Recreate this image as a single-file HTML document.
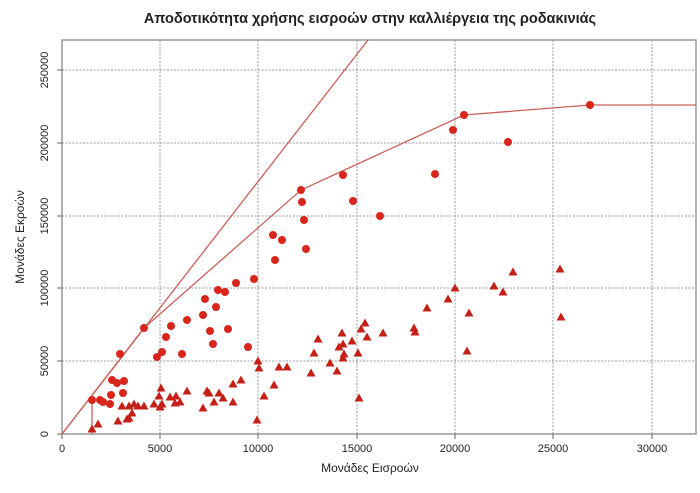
<!DOCTYPE html>
<html><head><meta charset="utf-8"><style>
body{margin:0;background:#fff}
svg{display:block;font-family:"Liberation Sans",sans-serif}
</style></head><body>
<svg width="700" height="493" viewBox="0 0 700 493" xmlns="http://www.w3.org/2000/svg">
<rect width="700" height="493" fill="#fff"/>
<text x="370" y="23" font-size="14.5" font-weight="bold" text-anchor="middle" fill="#222">Αποδοτικότητα χρήσης εισροών στην καλλιέργεια της ροδακινιάς</text>
<g stroke="#999" stroke-width="1" stroke-dasharray="2,1.5">
<line x1="160" y1="40" x2="160" y2="434"/><line x1="258" y1="40" x2="258" y2="434"/><line x1="357" y1="40" x2="357" y2="434"/><line x1="455" y1="40" x2="455" y2="434"/><line x1="553" y1="40" x2="553" y2="434"/><line x1="652" y1="40" x2="652" y2="434"/>
<line x1="62" y1="361" x2="696" y2="361"/><line x1="62" y1="288" x2="696" y2="288"/><line x1="62" y1="216" x2="696" y2="216"/><line x1="62" y1="143" x2="696" y2="143"/><line x1="62" y1="70" x2="696" y2="70"/>
</g>
<rect x="62" y="40" width="634" height="394" fill="none" stroke="#999" stroke-width="1.5"/>
<g stroke="#666" stroke-width="1">
<line x1="62" y1="434" x2="62" y2="439"/><line x1="160" y1="434" x2="160" y2="439"/><line x1="258" y1="434" x2="258" y2="439"/><line x1="357" y1="434" x2="357" y2="439"/><line x1="455" y1="434" x2="455" y2="439"/><line x1="553" y1="434" x2="553" y2="439"/><line x1="652" y1="434" x2="652" y2="439"/>
<line x1="57" y1="434" x2="62" y2="434"/><line x1="57" y1="361" x2="62" y2="361"/><line x1="57" y1="288" x2="62" y2="288"/><line x1="57" y1="216" x2="62" y2="216"/><line x1="57" y1="143" x2="62" y2="143"/><line x1="57" y1="70" x2="62" y2="70"/>
</g>
<g font-size="11" fill="#222" text-anchor="middle">
<text x="62" y="452">0</text><text x="160" y="452">5000</text><text x="258" y="452">10000</text><text x="357" y="452">15000</text><text x="455" y="452">20000</text><text x="553" y="452">25000</text><text x="652" y="452">30000</text>
</g>
<g font-size="11" fill="#222" text-anchor="middle">
<text transform="translate(48,434) rotate(-90)">0</text>
<text transform="translate(48,361) rotate(-90)">50000</text>
<text transform="translate(48,288) rotate(-90)">100000</text>
<text transform="translate(48,216) rotate(-90)">150000</text>
<text transform="translate(48,143) rotate(-90)">200000</text>
<text transform="translate(48,70) rotate(-90)">250000</text>
</g>
<text x="370" y="472" font-size="12" text-anchor="middle" fill="#222">Μονάδες Εισροών</text>
<text transform="translate(24,237) rotate(-90)" font-size="12" text-anchor="middle" fill="#222">Μονάδες Εκροών</text>
<g stroke="#c8605a" stroke-width="1.3" fill="none">
<line x1="62" y1="434" x2="368" y2="40"/>
<polyline points="62,434 144,328 301,190 464,115 590,105 696,105"/>
<line x1="92" y1="400" x2="92" y2="434"/>
</g>
<g fill="#d8261c">
<circle cx="92" cy="400" r="4"/><circle cx="144" cy="328" r="4"/><circle cx="120" cy="354" r="4"/><circle cx="112" cy="380" r="4"/><circle cx="117" cy="383" r="4"/><circle cx="124" cy="381" r="4"/><circle cx="123" cy="393" r="4"/><circle cx="111" cy="395" r="4"/><circle cx="110" cy="404" r="4"/><circle cx="100" cy="400" r="4"/><circle cx="103" cy="402" r="4"/>
<circle cx="157" cy="357" r="4"/><circle cx="162" cy="352" r="4"/><circle cx="166" cy="337" r="4"/><circle cx="171" cy="326" r="4"/><circle cx="187" cy="320" r="4"/><circle cx="182" cy="354" r="4"/><circle cx="203" cy="315" r="4"/><circle cx="205" cy="299" r="4"/><circle cx="210" cy="331" r="4"/><circle cx="213" cy="344" r="4"/><circle cx="216" cy="307" r="4"/><circle cx="218" cy="290" r="4"/><circle cx="225" cy="292" r="4"/><circle cx="228" cy="329" r="4"/><circle cx="236" cy="283" r="4"/><circle cx="248" cy="347" r="4"/><circle cx="254" cy="279" r="4"/><circle cx="275" cy="260" r="4"/>
<circle cx="273" cy="235" r="4"/><circle cx="282" cy="240" r="4"/><circle cx="306" cy="249" r="4"/><circle cx="301" cy="190" r="4"/><circle cx="302" cy="202" r="4"/><circle cx="304" cy="220" r="4"/><circle cx="343" cy="175" r="4"/><circle cx="353" cy="201" r="4"/><circle cx="380" cy="216" r="4"/><circle cx="435" cy="174" r="4"/><circle cx="453" cy="130" r="4"/><circle cx="464" cy="115" r="4"/><circle cx="508" cy="142" r="4"/><circle cx="590" cy="105" r="4"/>
</g>
<g fill="#c42018">
<path d="M0,-4.5 L4.5,3.5 L-4.5,3.5Z" transform="translate(92,429)"/>
<path d="M0,-4.5 L4.5,3.5 L-4.5,3.5Z" transform="translate(98,424)"/><path d="M0,-4.5 L4.5,3.5 L-4.5,3.5Z" transform="translate(118,421)"/><path d="M0,-4.5 L4.5,3.5 L-4.5,3.5Z" transform="translate(127,419)"/><path d="M0,-4.5 L4.5,3.5 L-4.5,3.5Z" transform="translate(129,418)"/><path d="M0,-4.5 L4.5,3.5 L-4.5,3.5Z" transform="translate(132,413)"/><path d="M0,-4.5 L4.5,3.5 L-4.5,3.5Z" transform="translate(122,406)"/><path d="M0,-4.5 L4.5,3.5 L-4.5,3.5Z" transform="translate(129,406)"/><path d="M0,-4.5 L4.5,3.5 L-4.5,3.5Z" transform="translate(134,404)"/><path d="M0,-4.5 L4.5,3.5 L-4.5,3.5Z" transform="translate(138,406)"/><path d="M0,-4.5 L4.5,3.5 L-4.5,3.5Z" transform="translate(144,406)"/><path d="M0,-4.5 L4.5,3.5 L-4.5,3.5Z" transform="translate(154,404)"/><path d="M0,-4.5 L4.5,3.5 L-4.5,3.5Z" transform="translate(160,407)"/><path d="M0,-4.5 L4.5,3.5 L-4.5,3.5Z" transform="translate(162,404)"/><path d="M0,-4.5 L4.5,3.5 L-4.5,3.5Z" transform="translate(159,396)"/><path d="M0,-4.5 L4.5,3.5 L-4.5,3.5Z" transform="translate(161,388)"/><path d="M0,-4.5 L4.5,3.5 L-4.5,3.5Z" transform="translate(170,397)"/><path d="M0,-4.5 L4.5,3.5 L-4.5,3.5Z" transform="translate(175,403)"/><path d="M0,-4.5 L4.5,3.5 L-4.5,3.5Z" transform="translate(176,396)"/><path d="M0,-4.5 L4.5,3.5 L-4.5,3.5Z" transform="translate(180,402)"/><path d="M0,-4.5 L4.5,3.5 L-4.5,3.5Z" transform="translate(187,391)"/><path d="M0,-4.5 L4.5,3.5 L-4.5,3.5Z" transform="translate(203,408)"/><path d="M0,-4.5 L4.5,3.5 L-4.5,3.5Z" transform="translate(207,391)"/><path d="M0,-4.5 L4.5,3.5 L-4.5,3.5Z" transform="translate(209,393)"/><path d="M0,-4.5 L4.5,3.5 L-4.5,3.5Z" transform="translate(214,402)"/><path d="M0,-4.5 L4.5,3.5 L-4.5,3.5Z" transform="translate(219,393)"/><path d="M0,-4.5 L4.5,3.5 L-4.5,3.5Z" transform="translate(223,398)"/><path d="M0,-4.5 L4.5,3.5 L-4.5,3.5Z" transform="translate(233,384)"/><path d="M0,-4.5 L4.5,3.5 L-4.5,3.5Z" transform="translate(233,402)"/><path d="M0,-4.5 L4.5,3.5 L-4.5,3.5Z" transform="translate(241,380)"/><path d="M0,-4.5 L4.5,3.5 L-4.5,3.5Z" transform="translate(257,420)"/><path d="M0,-4.5 L4.5,3.5 L-4.5,3.5Z" transform="translate(258,361)"/><path d="M0,-4.5 L4.5,3.5 L-4.5,3.5Z" transform="translate(259,368)"/><path d="M0,-4.5 L4.5,3.5 L-4.5,3.5Z" transform="translate(264,396)"/><path d="M0,-4.5 L4.5,3.5 L-4.5,3.5Z" transform="translate(274,385)"/><path d="M0,-4.5 L4.5,3.5 L-4.5,3.5Z" transform="translate(279,367)"/><path d="M0,-4.5 L4.5,3.5 L-4.5,3.5Z" transform="translate(287,367)"/>
<path d="M0,-4.5 L4.5,3.5 L-4.5,3.5Z" transform="translate(311,373)"/><path d="M0,-4.5 L4.5,3.5 L-4.5,3.5Z" transform="translate(314,353)"/><path d="M0,-4.5 L4.5,3.5 L-4.5,3.5Z" transform="translate(318,339)"/><path d="M0,-4.5 L4.5,3.5 L-4.5,3.5Z" transform="translate(330,363)"/><path d="M0,-4.5 L4.5,3.5 L-4.5,3.5Z" transform="translate(337,371)"/><path d="M0,-4.5 L4.5,3.5 L-4.5,3.5Z" transform="translate(339,347)"/><path d="M0,-4.5 L4.5,3.5 L-4.5,3.5Z" transform="translate(342,333)"/><path d="M0,-4.5 L4.5,3.5 L-4.5,3.5Z" transform="translate(343,344)"/><path d="M0,-4.5 L4.5,3.5 L-4.5,3.5Z" transform="translate(343,358)"/><path d="M0,-4.5 L4.5,3.5 L-4.5,3.5Z" transform="translate(344,354)"/><path d="M0,-4.5 L4.5,3.5 L-4.5,3.5Z" transform="translate(352,341)"/><path d="M0,-4.5 L4.5,3.5 L-4.5,3.5Z" transform="translate(358,353)"/><path d="M0,-4.5 L4.5,3.5 L-4.5,3.5Z" transform="translate(359,398)"/><path d="M0,-4.5 L4.5,3.5 L-4.5,3.5Z" transform="translate(361,329)"/><path d="M0,-4.5 L4.5,3.5 L-4.5,3.5Z" transform="translate(365,323)"/><path d="M0,-4.5 L4.5,3.5 L-4.5,3.5Z" transform="translate(367,337)"/><path d="M0,-4.5 L4.5,3.5 L-4.5,3.5Z" transform="translate(383,333)"/><path d="M0,-4.5 L4.5,3.5 L-4.5,3.5Z" transform="translate(414,328)"/><path d="M0,-4.5 L4.5,3.5 L-4.5,3.5Z" transform="translate(415,332)"/><path d="M0,-4.5 L4.5,3.5 L-4.5,3.5Z" transform="translate(427,308)"/><path d="M0,-4.5 L4.5,3.5 L-4.5,3.5Z" transform="translate(448,299)"/><path d="M0,-4.5 L4.5,3.5 L-4.5,3.5Z" transform="translate(455,288)"/><path d="M0,-4.5 L4.5,3.5 L-4.5,3.5Z" transform="translate(467,351)"/><path d="M0,-4.5 L4.5,3.5 L-4.5,3.5Z" transform="translate(469,313)"/><path d="M0,-4.5 L4.5,3.5 L-4.5,3.5Z" transform="translate(494,286)"/><path d="M0,-4.5 L4.5,3.5 L-4.5,3.5Z" transform="translate(503,292)"/><path d="M0,-4.5 L4.5,3.5 L-4.5,3.5Z" transform="translate(513,272)"/><path d="M0,-4.5 L4.5,3.5 L-4.5,3.5Z" transform="translate(560,269)"/><path d="M0,-4.5 L4.5,3.5 L-4.5,3.5Z" transform="translate(561,317)"/>
</g>
</svg>
</body></html>
